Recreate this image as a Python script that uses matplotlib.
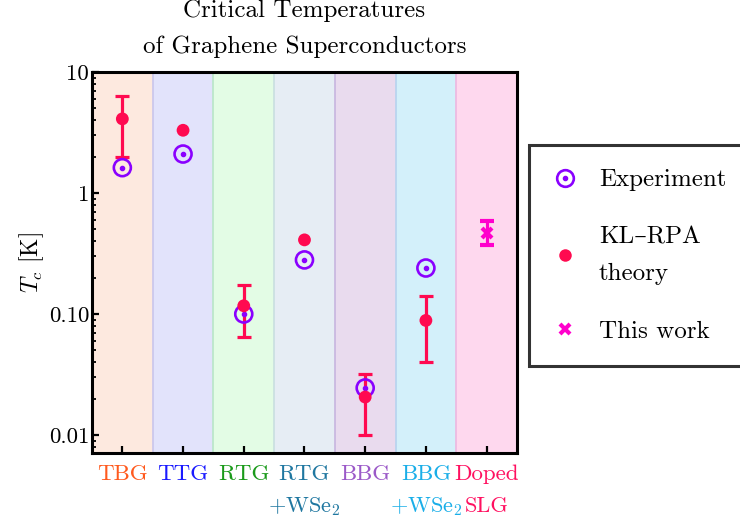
""" Critical temperatures of graphene superconductors on a log scale. """

import matplotlib.pyplot as plt
import numpy as np

plt.rcParams['font.family'] = ['cmr10', 'DejaVu Serif']
plt.rcParams['mathtext.fontset'] = 'cm'
plt.rcParams['axes.formatter.use_mathtext'] = True

# Systems, one band each (label split over two lines).
systems = ['TBG', 'TTG', 'RTG', 'RTG', 'BBG', 'BBG', 'Doped']
systems_2nd = ['', '', '', '+WSe$_2$', '', '+WSe$_2$', 'SLG']
label_colors = ['#ff5a1e', '#1a1aff', '#1a9a1a', '#1f77a0', '#9b59c8', '#1aaee8', '#ff1060']
band_colors = ['#fde9df', '#e2e3fb', '#e3fce5', '#e6edf4', '#e9dbee', '#d3f0fa', '#fed8ee']
band_edges = ['#f3c9c9', '#c9c6ec', '#b8e6c8', '#c9dfe0', '#c7b5df', '#b6d3ef', '#ecb7e0']

# Measured Tc (K) for the first six systems.
exp_x = [1, 2, 3, 4, 5, 6]
exp_tc = [1.62, 2.1, 0.10, 0.28, 0.0245, 0.24]

# KL-RPA theory values with lower/upper bounds (same value where no bar).
th_x = [1, 2, 3, 4, 5, 6]
th_tc = [4.1, 3.3, 0.117, 0.41, 0.0206, 0.0885]
th_lo = [1.98, 3.3, 0.064, 0.41, 0.0100, 0.040]
th_hi = [6.3, 3.3, 0.175, 0.41, 0.0318, 0.142]

# This work: doped single-layer graphene.
tw_x = [7]
tw_tc = [0.47]
tw_lo = [0.37]
tw_hi = [0.59]

fig = plt.figure(figsize=(7.4, 5.23), dpi=100)
ax = fig.add_axes([0.1243, 0.1338, 0.5743, 0.7285])

for i, (fc, ec) in enumerate(zip(band_colors, band_edges)):
    ax.axvspan(i + 0.5, i + 1.5, facecolor=fc, edgecolor='none', zorder=0)
    if i > 0:
        ax.axvline(i + 0.5, color=ec, lw=1.2, zorder=0.5)

purple = '#8a00ff'
red = '#ff0a50'
magenta = '#ff00cc'

# Theory error bars
th_tc = np.array(th_tc)
yerr = [th_tc - np.array(th_lo), np.array(th_hi) - th_tc]
has_bar = [hi > lo for lo, hi in zip(th_lo, th_hi)]
ax.errorbar(np.array(th_x)[has_bar], th_tc[has_bar],
            yerr=[yerr[0][has_bar], yerr[1][has_bar]],
            fmt='none', ecolor=red, elinewidth=2.3, capsize=5, capthick=2.3, zorder=2)

# Experiment: circle with center dot
ax.scatter(exp_x, exp_tc, s=150, facecolors='none', edgecolors=purple,
           linewidths=1.9, zorder=3)
ax.scatter(exp_x, exp_tc, s=9, color=purple, zorder=3)

# Theory points
ax.scatter(th_x, th_tc, s=85, color=red, edgecolors='none', zorder=4)

# This work
tw_tc = np.array(tw_tc)
ax.errorbar(tw_x, tw_tc, yerr=[tw_tc - np.array(tw_lo), np.array(tw_hi) - tw_tc],
            fmt='x', color=magenta, ms=7, mew=3, elinewidth=2.3, capsize=5,
            capthick=2.3, zorder=5)

ax.set_yscale('log')
ax.set_ylim(0.0071, 10)
ax.set_xlim(0.5, 7.5)
ax.set_yticks([0.01, 0.1, 1, 10])
ax.set_yticklabels(['0.01', '0.10', '1', '10'])
ax.set_xticks(range(1, 8))
ax.set_xticklabels(systems)
for lab, c in zip(ax.get_xticklabels(), label_colors):
    lab.set_color(c)
    lab.set_fontsize(16)

# second line of the category labels
for x, txt, c in zip(range(1, 8), systems_2nd, label_colors):
    if txt:
        ax.annotate(txt, xy=(x, 0), xycoords=('data', 'axes fraction'),
                    xytext=(0, -42.5), textcoords='offset points',
                    ha='center', va='baseline', fontsize=16, color=c)

ax.tick_params(axis='both', labelsize=16.5, direction='in', width=1.6, length=5)
ax.tick_params(axis='y', which='minor', direction='in', width=1.3, length=3)
ax.tick_params(axis='x', pad=8)
ax.tick_params(axis='y', pad=2)
for sp in ax.spines.values():
    sp.set_linewidth(2.2)

ax.set_ylabel(r'$T_c$ [K]', fontsize=17, labelpad=2)
ax.set_title('Critical Temperatures\nof Graphene Superconductors',
             fontsize=18, linespacing=1.75, pad=14)

# Legend
h_exp = plt.Line2D([], [], ls='none', marker='o', ms=12, mfc='none', mec=purple, mew=1.9)
h_dot = plt.Line2D([], [], ls='none', marker='o', ms=3, color=purple)
h_th = plt.Line2D([], [], ls='none', marker='o', ms=9, color=red, mec='none')
h_tw = plt.Line2D([], [], ls='none', marker='x', ms=7, mew=3, color=magenta)
leg = fig.legend([(h_exp, h_dot), h_th, h_tw],
                 ['Experiment', 'KL\u2013RPA\ntheory', 'This work'],
                 loc='upper left', bbox_to_anchor=(529 / 740, 1 - 145 / 523),
                 fontsize=18, frameon=True, fancybox=False, edgecolor='black',
                 borderpad=0.95, labelspacing=1.4, handletextpad=0.84,
                 handlelength=1.0, borderaxespad=0)
leg.get_frame().set_linewidth(2.2)
for t in leg.get_texts():
    t.set_linespacing(1.85)

fig.savefig('out.png', dpi=100)
